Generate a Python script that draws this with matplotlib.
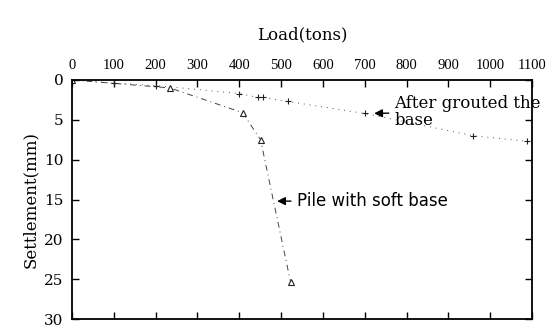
import numpy as np
import matplotlib
matplotlib.use('Agg')
import matplotlib.pyplot as plt

# load (tons) / settlement (mm)
soft_load = [0, 234, 408, 451, 523]
soft_settle = [0, 1.0, 4.1, 7.5, 25.4]

grout_load = [0, 100, 200, 400, 445, 456, 516, 700, 960, 1088]
grout_settle = [0, 0.4, 0.7, 1.7, 2.2, 2.2, 2.7, 4.2, 7.0, 7.7]

x_ticks = [0, 100, 200, 300, 400, 500, 600, 700, 800, 900, 1000, 1100]
y_ticks = [0, 5, 10, 15, 20, 25, 30]

plt.rcParams['font.family'] = ['Liberation Serif', 'DejaVu Serif']

fig = plt.figure(figsize=(5.49, 3.29), dpi=100)
ax = fig.add_axes([0.131, 0.03, 0.838, 0.727])

ax.plot(soft_load, soft_settle, color='#444444', lw=0.7, ls=(0, (6, 4, 1, 4)),
        marker='^', ms=5, mfc='white', mec='#222222', mew=0.8)
ax.plot(grout_load, grout_settle, color='#555555', lw=0.7, ls=(0, (1, 5)),
        marker='+', ms=4, mec='#222222', mew=0.8)

ax.set_xlim(0, 1100)
ax.set_ylim(30, 0)
ax.set_xticks(x_ticks)
ax.set_yticks(y_ticks)
ax.xaxis.tick_top()
ax.xaxis.set_label_position('top')
ax.tick_params(axis='both', direction='in', length=5, width=1, labelsize=10.5,
               top=True, bottom=True, left=True, right=True, pad=6)
ax.tick_params(axis='y', labelsize=11)
for lab in ax.get_yticklabels():
    lab.set_family('DejaVu Serif')
for s in ax.spines.values():
    s.set_linewidth(1.3)

ax.set_xlabel('Load(tons)', fontsize=12, labelpad=14, family='DejaVu Serif')
ax.set_ylabel('Settlement(mm)', fontsize=12, labelpad=4, family='DejaVu Serif')

ax.annotate('Pile with soft base', xy=(484, 15.2), xytext=(537, 15.2),
            fontsize=12, va='center', ha='left', family=['DejaVu Sans'],
            arrowprops=dict(arrowstyle='-|>', color='black', lw=1, mutation_scale=12))
ax.annotate('After grouted the\nbase', xy=(716, 4.2), xytext=(771, 4.0),
            fontsize=12, va='center', ha='left', linespacing=1.0, family='DejaVu Serif',
            arrowprops=dict(arrowstyle='-|>', color='black', lw=1, mutation_scale=12))

fig.savefig('out.png', dpi=100)
